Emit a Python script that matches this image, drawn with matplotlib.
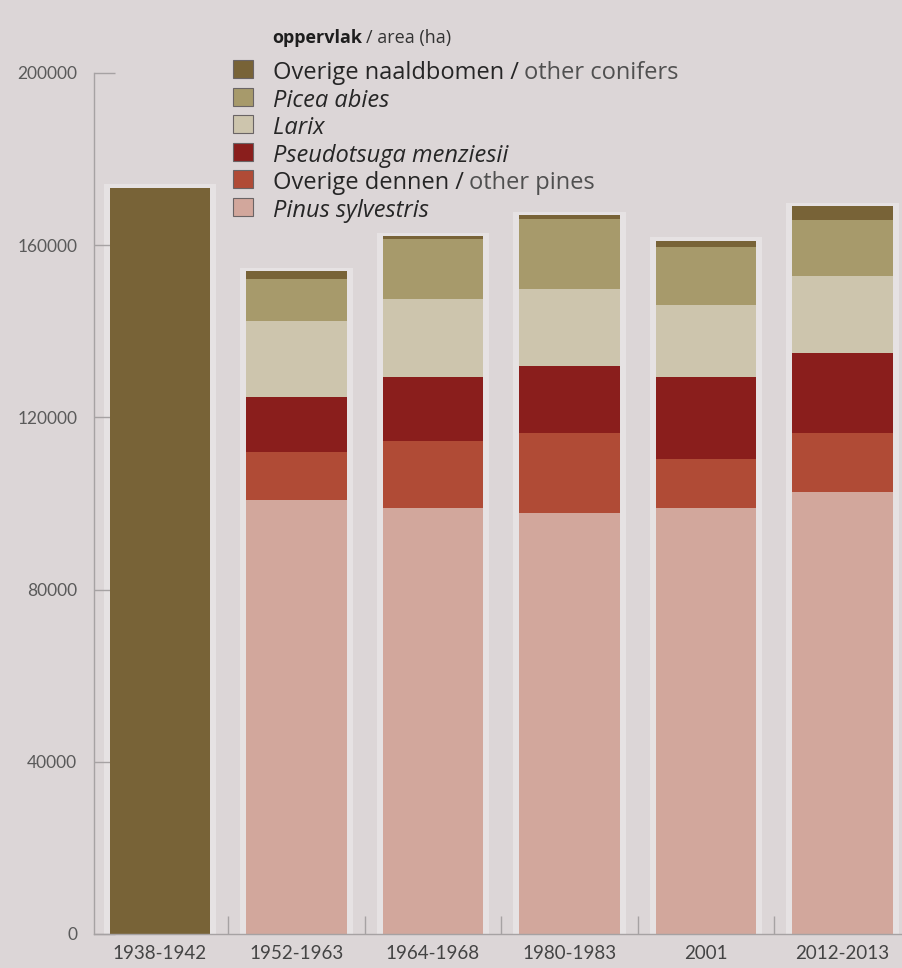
import numpy as np
import matplotlib.pyplot as plt
from matplotlib.patches import Rectangle

# area (ha) per inventory
periods = ['1938-1942', '1952-1963', '1964-1968', '1980-1983', '2001', '2012-2013']
pinus = [0, 100800, 98900, 97800, 98900, 102600]
dennen = [0, 11200, 15600, 18600, 11400, 13800]
pseudotsuga = [0, 12700, 14900, 15500, 19000, 18600]
larix = [0, 17700, 18000, 17900, 16800, 17800]
picea = [0, 9700, 14100, 16400, 13400, 13100]
naald = [173300, 1900, 600, 800, 1500, 3200]

yticks = [0, 40000, 80000, 120000, 160000, 200000]

# stacking order bottom -> top
series = [pinus, dennen, pseudotsuga, larix, picea, naald]
colors = ['#d2a79c', '#b04b36', '#8a1e1c', '#cdc5ad', '#a79a6b', '#786337']

# legend rows top -> bottom: (colour index, [(text, style), ...])
legend_rows = [
    (5, [('Overige naaldbomen /', 'dark'), ('other conifers', 'light')]),
    (4, [('Picea abies', 'italic')]),
    (3, [('Larix', 'italic')]),
    (2, [('Pseudotsuga menziesii', 'italic')]),
    (1, [('Overige dennen /', 'dark'), ('other pines', 'light')]),
    (0, [('Pinus sylvestris', 'italic')]),
]

bg = '#dcd6d7'
W, H = 902, 968
FONT = 'Lato'
LFONT = 'Open Sans'

fig = plt.figure(figsize=(W / 100, H / 100), dpi=100, facecolor=bg)
ax = fig.add_axes([94 / W, 34 / H, (W - 94) / W, 861 / H])
ax.set_facecolor(bg)

x = np.arange(len(periods))
bw = 0.733
totals = np.sum(series, axis=0)

# light halo round each bar, as in the scanned print
ax.bar(x, totals + 1800, width=bw + 0.09, bottom=-1000, color='#e6e2e3', zorder=1)

bottom = np.zeros(len(periods))
for vals, c in zip(series, colors):
    ax.bar(x, vals, width=bw, bottom=bottom, color=c, edgecolor='none', zorder=2)
    bottom += np.array(vals)

ax.set_xlim(-0.4835, 5.436)
ax.set_ylim(0, 200000)

for s in ['top', 'right']:
    ax.spines[s].set_visible(False)
for s in ['left', 'bottom']:
    ax.spines[s].set_color('#a6a2a3')
    ax.spines[s].set_linewidth(1)

ax.set_yticks(yticks)
ax.set_yticklabels([str(v) for v in yticks])
ax.tick_params(axis='y', direction='in', length=15, width=1, color='#a6a2a3',
               labelsize=12.5, labelcolor='#5a5a5a', pad=12)
ax.set_xticks(x)
ax.set_xticklabels(periods)
ax.set_xticks(x[:-1] + 0.5, minor=True)
ax.tick_params(axis='x', which='major', length=0, labelsize=13.5,
               labelcolor='#444444', pad=8)
ax.tick_params(axis='x', which='minor', direction='in', length=13, width=1,
               color='#a6a2a3')
for lab in ax.get_xticklabels() + ax.get_yticklabels():
    lab.set_family(FONT)

# ---- legend drawn by hand (mixed weights in one label) ----
fig.canvas.draw()
rend = fig.canvas.get_renderer()


def put_parts(px, py, parts, size):
    for s, style in parts:
        kw = dict(family=LFONT, fontsize=size, va='center_baseline', ha='left')
        if style == 'dark':
            kw.update(color='#262626')
        elif style == 'light':
            kw.update(color='#505050')
        elif style == 'italic':
            kw.update(color='#262626', style='italic')
        elif style == 'bold':
            kw.update(color='#1e1e1e', weight='bold')
        elif style == 'plain':
            kw.update(color='#333333')
        t = fig.text(px / W, 1 - py / H, s, **kw)
        bb = t.get_window_extent(rend)
        px = bb.x1 + size * 0.3


put_parts(272, 36, [('oppervlak', 'bold'), ('/ area (ha)', 'plain')], 13)

row_y = 69
for ci, parts in legend_rows:
    fig.patches.append(Rectangle((233 / W, 1 - (row_y + 9) / H), 20 / W, 18 / H,
                                 transform=fig.transFigure, facecolor=colors[ci],
                                 edgecolor='#6a6465', linewidth=0.8))
    put_parts(273, row_y + 1, parts, 17)
    row_y += 27.6

fig.savefig('out.png', dpi=100, facecolor=bg)
